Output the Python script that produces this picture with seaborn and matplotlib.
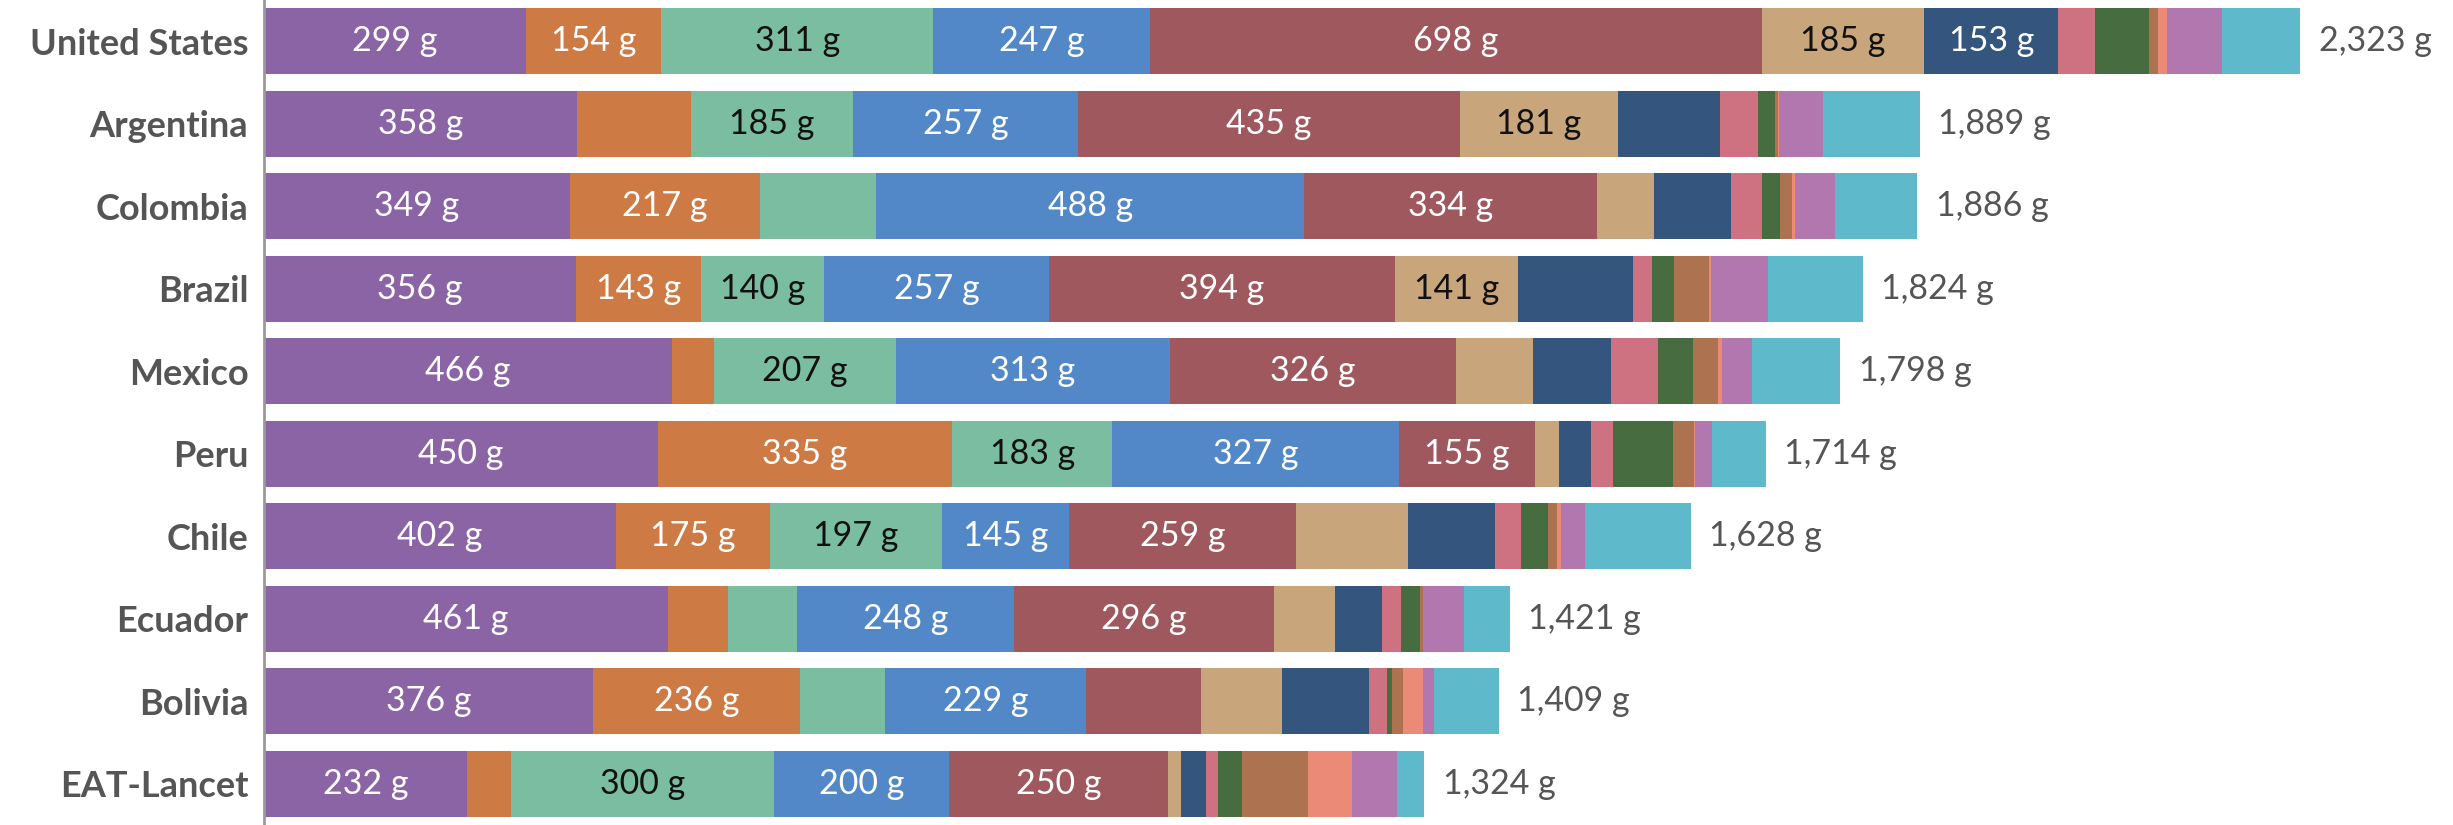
import numpy as np
import pandas as pd
import matplotlib
matplotlib.use("Agg")
import matplotlib.pyplot as plt
import seaborn as sns

countries = ["United States", "Argentina", "Colombia", "Brazil", "Mexico",
             "Peru", "Chile", "Ecuador", "Bolivia", "EAT-Lancet"]

groups = ["Whole grains", "Tubers", "Vegetables", "Fruits", "Dairy", "Red meat",
          "Poultry", "Eggs", "Fish", "Legumes", "Nuts", "Added fats", "Added sugars"]

whole_grains = [299, 358, 349, 356, 466, 450, 402, 461, 376, 232]
tubers       = [154, 129, 217, 143,  48, 335, 175,  69, 236,  50]
vegetables   = [311, 185, 133, 140, 207, 183, 197,  78,  97, 300]
fruits       = [247, 257, 488, 257, 313, 327, 145, 248, 229, 200]
dairy        = [698, 435, 334, 394, 326, 155, 259, 296, 131, 250]
red_meat     = [185, 181,  65, 141,  88,  27, 127,  70,  93,  14]
poultry      = [153, 116,  88, 131,  89,  37,  99,  53,  99,  29]
eggs         = [ 42,  43,  35,  22,  53,  25,  30,  22,  20,  13]
fish         = [ 61,  20,  20,  25,  40,  68,  31,  22,   6,  28]
legumes      = [ 11,   3,  14,  40,  29,  24,  10,   3,  12,  75]
nuts         = [ 10,   1,   4,   2,   4,   1,   5,   0,  23,  50]
added_fats   = [ 62,  50,  45,  65,  35,  20,  27,  47,  13,  52]
added_sugars = [ 90, 111,  94, 108, 100,  61, 121,  52,  74,  31]

totals = [2323, 1889, 1886, 1824, 1798, 1714, 1628, 1421, 1409, 1324]

series = [whole_grains, tubers, vegetables, fruits, dairy, red_meat, poultry,
          eggs, fish, legumes, nuts, added_fats, added_sugars]

palette = ["#8B64A6", "#CD7A45", "#7BBDA1", "#5288C8", "#A0585F", "#C8A57A",
           "#33557E", "#CE7282", "#476C3F", "#AD7250", "#EC8A78", "#B377AF", "#5EBACA"]
text_dark = {"Vegetables", "Red meat"}

sns.set_theme(style="white")
plt.rcParams["font.family"] = ["Lato", "DejaVu Sans"]

W, H = 2453, 825
fig = plt.figure(figsize=(W / 100, H / 100), dpi=100)
left = 263.6 / W
ax = fig.add_axes([left, 0.0, 1 - left, 1.0])

vals = np.array(series, dtype=float)  # groups x countries
cum = np.cumsum(vals, axis=0)

# draw cumulative bars from the outermost to the innermost (seaborn stacking)
for k in range(len(groups) - 1, -1, -1):
    df = pd.DataFrame({"country": countries, "value": cum[k]})
    sns.barplot(data=df, y="country", x="value", orient="h", color=palette[k],
                saturation=1, width=0.8, linewidth=0, errorbar=None, ax=ax)

# segment labels
for k, g in enumerate(groups):
    for i, c in enumerate(countries):
        v = vals[k, i]
        if v >= 140:
            start = cum[k, i] - v
            ax.text(start + v / 2, i, f"{int(v)} g", ha="center", va="center",
                    fontsize=24.5, color="#111111" if g in text_dark else "white")

# totals
for i, t in enumerate(totals):
    ax.text(cum[-1, i] + 21, i, f"{t:,} g", ha="left", va="center",
            fontsize=24.5, color="#555555")

ax.set_xlim(0, 2497)
ax.set_ylim(9.5, -0.5)
ax.set_xlabel("")
ax.set_ylabel("")
ax.set_xticks([])
for s in ["top", "right", "bottom"]:
    ax.spines[s].set_visible(False)
ax.spines["left"].set_color("#999999")
ax.spines["left"].set_linewidth(2)
ax.tick_params(axis="y", length=0, pad=11)
for lab in ax.get_yticklabels():
    lab.set_fontsize(26)
    lab.set_fontweight("bold")
    lab.set_color("#555555")

fig.savefig("out.png", dpi=100)
